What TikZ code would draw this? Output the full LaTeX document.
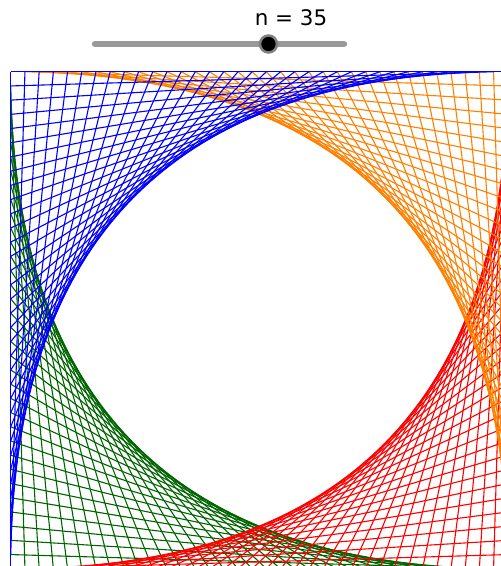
\documentclass[tikz,border=0pt]{standalone}
\usepackage{fontspec}
\setsansfont{DejaVu Sans}
\usepackage{xcolor}
\usetikzlibrary{calc}
\definecolor{gorange}{HTML}{FF7F00}
\definecolor{ggreen}{HTML}{006400}
\definecolor{gtrack}{HTML}{999999}
\begin{document}
\begin{tikzpicture}[
  x=1bp,y=-1bp,
  thread/.style={line width=1.1bp},
  track/.style={line width=6.5bp,line cap=round,draw=gtrack},
  knob/.style={circle,fill=black,draw=gray,line width=2.5bp,minimum size=17bp,inner sep=0pt},
  lbl/.style={font=\sffamily\fontsize{21.5}{24}\selectfont,anchor=base}]
\clip (0,0) rectangle (501,566);
% slider
\node[lbl] (val) at (291,26) {n = 35};
\coordinate (s0) at (95,44);
\coordinate (s1) at (344,44);
\draw[track] (s0) -- (s1);
\node[knob] (knob) at (268.5,44) {};
% square corners
\coordinate (TL) at (10.75,71.75);
\coordinate (TR) at (507.75,71.75);
\coordinate (BL) at (10.75,568.75);
\coordinate (BR) at (507.75,568.75);
% threads
\foreach \k in {0,...,35}{
  \draw[thread,ggreen] ($(BL)!\k/35!(TL)$) -- ($(BR)!\k/35!(BL)$);
}
\foreach \k in {0,...,35}{
  \draw[thread,red] ($(BR)!\k/35!(BL)$) -- ($(TR)!\k/35!(BR)$);
}
\foreach \k in {0,...,35}{
  \draw[thread,gorange] ($(TR)!\k/35!(TL)$) -- ($(BR)!\k/35!(TR)$);
}
\foreach \k in {0,...,35}{
  \draw[thread,blue] ($(TL)!\k/35!(BL)$) -- ($(TR)!\k/35!(TL)$);
}
\end{tikzpicture}
\end{document}
